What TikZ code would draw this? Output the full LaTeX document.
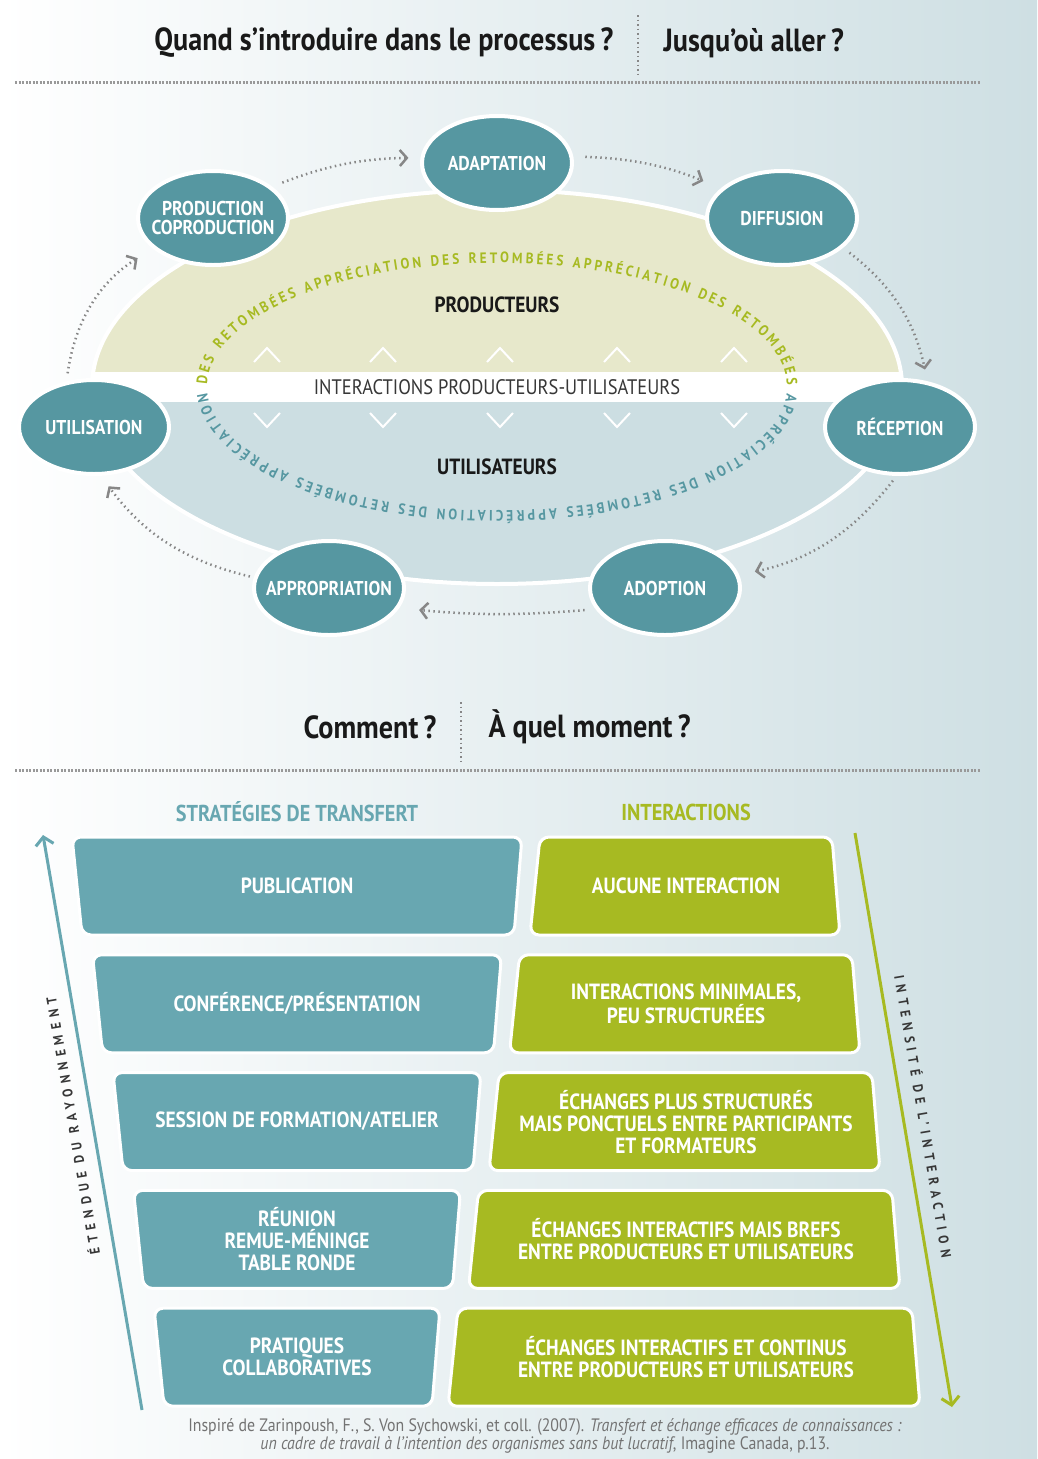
\documentclass[tikz,border=0pt]{standalone}
\usepackage{fontspec}
\setmainfont{PT Sans}[FakeStretch=0.88]
\usetikzlibrary{shapes.geometric, arrows.meta, decorations.text, positioning}
\definecolor{sarcelle}{RGB}{86,151,161}
\definecolor{sarcelleclair}{RGB}{104,167,177}
\definecolor{vertlime}{RGB}{167,186,34}
\definecolor{sable}{RGB}{231,232,203}
\definecolor{bleupale}{RGB}{204,222,226}
\definecolor{fond}{RGB}{206,223,227}
\definecolor{gristexte}{RGB}{55,55,55}
\definecolor{grispoint}{RGB}{135,135,135}
\definecolor{grispied}{RGB}{115,115,115}
\newcommand{\arcfont}{\bfseries\fontsize{15}{15}\selectfont}
\newcommand{\flechefont}{\bfseries\fontsize{14}{14}\selectfont\addfontfeature{LetterSpace=40}}

\begin{document}
\begin{tikzpicture}[x = 1pt, y = 1pt,
        titre/.style = {font = \bfseries\fontsize{32}{34}\selectfont, text = black!90},
        sep/.style = {grispoint, line width = 2pt, dash pattern = on 1.5pt off 3pt},
        ligne/.style = {grispoint!85, line width = 3pt, dash pattern = on 2pt off 1.5pt}]
    \useasboundingbox (0,0) rectangle (1037,-1459);
    \shade[left color = white, right color = fond] (0,0) rectangle (1037,-1459);

    \node[titre, anchor = east] (quand) at (617,-43) {Quand s’introduire dans le processus\,?};
    \node[titre, anchor = west] (jusqu) at (660,-43) {Jusqu’où aller\,?};
    \draw[sep] (638,-15) -- (638,-75);
    \draw[ligne] (15,-82) -- (980,-82);

    \begin{scope}[etape/.style = {ellipse, fill = sarcelle, draw = white, line width = 4pt, minimum width = 150pt, minimum height = 94pt, inner xsep = -14pt, inner ysep = -4pt, align = center, text = white, font = \bfseries\fontsize{20}{19}\selectfont},
                  fleche/.style = {grispoint, line width = 2.5pt, dash pattern = on 1.5pt off 3.5pt, -{Straight Barb[length = 7pt, width = 16pt]}, bend left = #1},
                  fleche/.default = 15]
        \begin{scope}
            \clip (497,-387) ellipse [x radius = 405, y radius = 197];
            \fill[sable] (80,-180) rectangle (920,-387);
            \fill[bleupale] (80,-387) rectangle (920,-600);
            \fill[white] (80,-372) rectangle (920,-402);
        \end{scope}
        \draw[white, line width = 4pt] (497,-387) ellipse [x radius = 405, y radius = 197];
        \foreach \x in {267, 383, 500, 617, 734} {
            \draw[white, line width = 2pt] (\x-13,-362) -- (\x,-348) -- (\x+13,-362);
            \draw[white, line width = 2pt] (\x-13,-413) -- (\x,-427) -- (\x+13,-413);
        }
        \node[font = \bfseries\fontsize{22}{22}\selectfont, text = black!90] (producteurs) at (497,-305) {PRODUCTEURS};
        \node[font = \bfseries\fontsize{22}{22}\selectfont, text = black!90] (utilisateurs) at (497,-467) {UTILISATEURS};
        \node[font = \fontsize{21}{21}\selectfont, text = gristexte] (interactions) at (497,-387) {INTERACTIONS PRODUCTEURS-UTILISATEURS};
        \path[decorate, decoration = {text along path, text align = {fit to path}, text color = vertlime,
                text = {|\arcfont|DES RETOMBÉES APPRÉCIATION DES RETOMBÉES APPRÉCIATION DES RETOMBÉES}}]
            (497,-387) ++(179:290 and 124) arc [start angle = 179, end angle = 1, x radius = 290, y radius = 124];
        \path[decorate, decoration = {text along path, text align = {fit to path}, text color = sarcelle,
                text = {|\arcfont|APPRÉCIATION DES RETOMBÉES APPRÉCIATION DES RETOMBÉES APPRÉCIATION}}]
            (497,-387) ++(-3:290 and 124) arc [start angle = -3, end angle = -177, x radius = 290, y radius = 124];

        \node[etape] (prod) at (213,-218) {PRODUCTION\\COPRODUCTION};
        \node[etape] (adapt) at (497,-163) {ADAPTATION};
        \node[etape] (diff) at (782,-218) {DIFFUSION};
        \node[etape] (recep) at (900,-427) {RÉCEPTION};
        \node[etape] (adopt) at (665,-588) {ADOPTION};
        \node[etape] (approp) at (329,-588) {APPROPRIATION};
        \node[etape] (util) at (94,-427) {UTILISATION};

        \draw[fleche = 25, shorten <= 8pt, shorten >= 18pt] (util.121) to (prod.207);
        \draw[fleche = 10, shorten <= 11pt, shorten >= 12pt] (prod.28) to (adapt.176);
        \draw[fleche = 10, shorten <= 12pt, shorten >= 19pt] (adapt.5) to (diff.154);
        \draw[fleche = 20, shorten <= 8pt, shorten >= 12pt] (diff.334) to (recep.59);
        \draw[fleche = 20, shorten <= 6pt, shorten >= 16pt] (recep.266) to (adopt.10);
        \draw[fleche = 5, shorten <= 11pt, shorten >= 20pt] (adopt.197) to (approp.344);
        \draw[fleche = 20, shorten <= 4pt, shorten >= 13pt] (approp.172) to (util.278);
    \end{scope}

    \node[titre, anchor = east] (comment) at (440,-727) {Comment\,?};
    \node[titre, anchor = west] (moment) at (485,-727) {À quel moment\,?};
    \draw[sep] (461,-702) -- (461,-762);
    \draw[ligne] (15,-770) -- (980,-770);

    \begin{scope}[boite/.style = {fill = #1, draw = white, line width = 3pt, rounded corners = 9pt},
                  etiquette/.style = {align = center, text = white, font = \bfseries\fontsize{22}{22}\selectfont}]
        \node[font = \bfseries\fontsize{23}{23}\selectfont, text = sarcelleclair] (strategies) at (297,-812) {STRATÉGIES DE TRANSFERT};
        \node[font = \bfseries\fontsize{23}{23}\selectfont, text = vertlime] (interentete) at (686,-812) {INTERACTIONS};
        \foreach \i/\strat/\inter in {0/{PUBLICATION}/{AUCUNE INTERACTION},
                                      1/{CONFÉRENCE/PRÉSENTATION}/{INTERACTIONS MINIMALES,\\PEU STRUCTURÉES},
                                      2/{SESSION DE FORMATION/ATELIER}/{ÉCHANGES PLUS STRUCTURÉS\\MAIS PONCTUELS ENTRE PARTICIPANTS\\ET FORMATEURS},
                                      3/{RÉUNION\\REMUE-MÉNINGE\\TABLE RONDE}/{ÉCHANGES INTERACTIFS MAIS BREFS\\ENTRE PRODUCTEURS ET UTILISATEURS},
                                      4/{PRATIQUES\\COLLABORATIVES}/{ÉCHANGES INTERACTIFS ET CONTINUS\\ENTRE PRODUCTEURS ET UTILISATEURS}} {
            \pgfmathsetmacro{\ytop}{-837 - 117.8*\i}
            \pgfmathsetmacro{\ybas}{\ytop - 98}
            \pgfmathsetmacro{\xsg}{72 + 20.5*\i}
            \pgfmathsetmacro{\xsd}{522 - 20.5*\i}
            \pgfmathsetmacro{\xig}{540 - 20.5*\i}
            \pgfmathsetmacro{\xid}{832 + 20*\i}
            \path[boite = sarcelleclair] (\xsg,\ytop) -- (\xsd,\ytop) -- (\xsd-8,\ybas) -- (\xsg+10,\ybas) -- cycle;
            \path[boite = vertlime] (\xig,\ytop) -- (\xid,\ytop) -- (\xid+8,\ybas) -- (\xig-10,\ybas) -- cycle;
            \node[etiquette] (s\i) at (297,\ytop-49) {\strat};
            \node[etiquette] (g\i) at (686,\ytop-49) {\inter};
        }
        \coordinate (eb) at (142,-1410);
        \coordinate (eh) at (43,-835);
        \coordinate (ih) at (855,-833);
        \coordinate (ib) at (952,-1407);
        \draw[sarcelleclair, line width = 3pt, -{Straight Barb[length = 8pt, width = 18pt]}] (eb) -- node[sloped, allow upside down, above = 13pt, inner sep = 0pt, text = gristexte, font = \flechefont] (etendue) {ÉTENDUE DU RAYONNEMENT} (eh);
        \draw[vertlime, line width = 3pt, -{Straight Barb[length = 8pt, width = 18pt]}] (ih) -- node[sloped, above = 13pt, inner sep = 0pt, text = gristexte, font = \flechefont] (intensite) {INTENSITÉ DE L’INTERACTION} (ib);
    \end{scope}

    \node[font = \fontsize{18}{15.5}\selectfont, text = grispied, align = center] (source) at (545,-1436) {Inspiré de Zarinpoush, F., S. Von Sychowski, et coll. (2007). \textit{Transfert et échange efficaces de connaissances :}\\\textit{un cadre de travail à l’intention des organismes sans but lucratif}, Imagine Canada, p.13.};
\end{tikzpicture}
\end{document}
